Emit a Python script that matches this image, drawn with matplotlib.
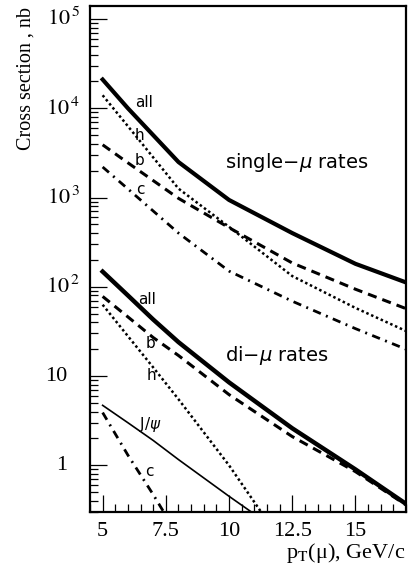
import numpy as np
import matplotlib.pyplot as plt
from matplotlib.ticker import MultipleLocator, FixedLocator, LogLocator, NullFormatter, FuncFormatter
from matplotlib.transforms import blended_transform_factory

plt.rcParams['font.family'] = ['Liberation Serif', 'DejaVu Serif']
plt.rcParams['mathtext.fontset'] = 'stix'

# single-muon rates (nb)
pt_single = [5, 6, 8, 10, 12.5, 15, 17]
single_all = [2.1e4, 1.0e4, 2.5e3, 940, 400, 181, 112]
single_h = [1.4e4, 6.3e3, 1.26e3, 470, 132, 58, 32]
single_b = [3.9e3, 2.45e3, 980, 460, 185, 94, 57]
single_c = [2.2e3, 1.25e3, 400, 150, 69, 34, 20]

# di-muon rates (nb)
pt_di = [5, 6, 7, 8, 10, 12.5, 15, 17]
di_all = [148, 80, 43, 24, 8.5, 2.6, 0.9, 0.37]
di_b = [78, 46, 27, 17, 6.2, 2.1, 0.85, 0.36]
pt_di_low = [5, 6, 7, 8, 10, 12]
di_h = [63, 28, 12.5, 5.5, 1.0, 0.15]
di_jpsi = [4.7, 3.0, 1.9, 1.16, 0.45, 0.18]
pt_di_c = [5, 6, 7, 8]
di_c = [3.9, 1.3, 0.47, 0.16]

x_ticks = [5, 7.5, 10, 12.5, 15]
y_ticks = [1, 10, 1e2, 1e3, 1e4, 1e5]
y_tick_labels = ['1', '10', r'$10^{\,2}$', r'$10^{\,3}$', r'$10^{\,4}$', r'$10^{\,5}$']

fig = plt.figure(figsize=(4.11, 5.70), dpi=100)
ax = fig.add_axes([90 / 411, 1 - 512 / 570, 316 / 411, 506 / 570])

dash = (0, (3, 2))
dot = (0, (1, 1.1))
dashdot = (0, (3, 2, 0.7, 2))

# single-mu curves
ax.plot(pt_single, single_all, color='black', lw=3.0, solid_joinstyle='round')
ax.plot(pt_single, single_h, color='black', lw=1.8, linestyle=dot)
ax.plot(pt_single, single_b, color='black', lw=2.2, linestyle=dash)
ax.plot(pt_single, single_c, color='black', lw=2.0, linestyle=dashdot)

# di-mu curves
ax.plot(pt_di, di_all, color='black', lw=3.2, solid_joinstyle='round')
ax.plot(pt_di, di_b, color='black', lw=2.2, linestyle=dash)
ax.plot(pt_di_low, di_h, color='black', lw=1.8, linestyle=dot)
ax.plot(pt_di_low, di_jpsi, color='black', lw=1.2)
ax.plot(pt_di_c, di_c, color='black', lw=2.0, linestyle=dashdot)

ax.set_yscale('log')
ax.set_xlim(4.5, 17)
ax.set_ylim(0.3, 1.4e5)

# curve labels
sans = dict(family='DejaVu Sans', math_fontfamily='dejavusans', color='black')
labels = [
    ('all', 6.65, 1.15e4), ('h', 6.46, 4.9e3), ('b', 6.46, 2.6e3), ('c', 6.5, 1.22e3),
    ('all', 6.77, 72), ('b', 6.89, 23), ('h', 6.93, 10.1), (r'J/$\psi$', 6.89, 2.87),
    ('c', 6.85, 0.855),
]
for txt, x, y in labels:
    ax.text(x, y, txt, fontsize=11, ha='center', va='center', **sans)
ax.text(9.84, 2.5e3, r'single$-\mu$ rates', fontsize=14, ha='left', va='center', **sans)
ax.text(9.84, 17, r'di$-\mu$ rates', fontsize=14, ha='left', va='center', **sans)

# ticks
ax.xaxis.set_major_locator(FixedLocator(x_ticks))
ax.xaxis.set_minor_locator(MultipleLocator(0.5))
ax.xaxis.set_major_formatter(FuncFormatter(lambda v, p: '%g' % v))
ax.yaxis.set_major_locator(FixedLocator(y_ticks))
ax.yaxis.set_major_formatter(NullFormatter())
ax.yaxis.set_minor_locator(LogLocator(base=10, subs=np.arange(2, 10)))
ax.yaxis.set_minor_formatter(NullFormatter())
ax.tick_params(which='major', direction='in', length=12, width=0.9, labelsize=16)
ax.tick_params(which='minor', direction='in', length=6, width=0.9)
ax.tick_params(axis='x', which='major', pad=7)

# y tick labels: powers stick out to the right of the plain numbers
ytrans = blended_transform_factory(ax.transAxes, ax.transData)
for v, lab in zip(y_ticks, y_tick_labels):
    xr = -0.032 if '^' in lab else -0.073
    ax.text(xr, v, lab, transform=ytrans, ha='right', va='center', fontsize=16)

for s in ax.spines.values():
    s.set_linewidth(1.6)

fig.text(26 / 411, 1 - 7 / 570, 'Cross section , nb', rotation=90, ha='center', va='top',
         fontsize=14.5)
fig.text(405 / 411, 1 - 558 / 570, r'p$_{\mathrm{T}}$(μ), GeV/c', ha='right', va='baseline',
         fontsize=16)

fig.savefig('out.png', dpi=100)
